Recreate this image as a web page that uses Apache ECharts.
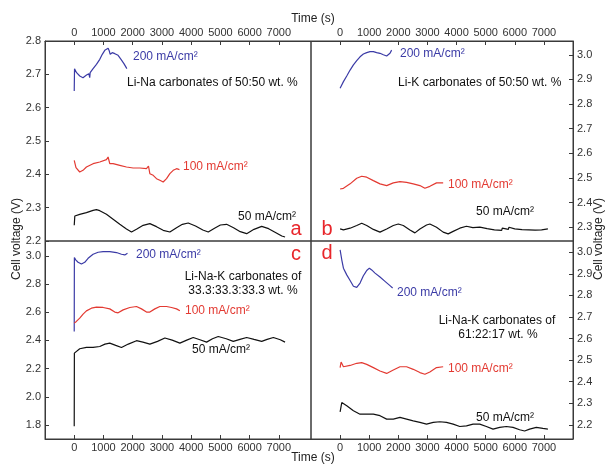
<!DOCTYPE html>
<html><head><meta charset="utf-8">
<script src="https://cdn.jsdelivr.net/npm/echarts@6/dist/echarts.min.js"></script>
<style>html,body{margin:0;padding:0;background:#fff}#c{width:606px;height:465px}</style>
</head><body><div id="c"></div>
<script>
// ---- tick labels ----
const timeTicks = [0,1000,2000,3000,4000,5000,6000,7000];
const yTicksA = [2.2,2.3,2.4,2.5,2.6,2.7,2.8];
const yTicksB = [2.3,2.4,2.5,2.6,2.7,2.8,2.9,3.0];
const yTicksC = [1.8,2.0,2.2,2.4,2.6,2.8,3.0];
const yTicksD = [2.2,2.3,2.4,2.5,2.6,2.7,2.8,2.9,3.0];

// ---- panel a : Li-Na 50:50 ----
const aT200 = [0,10,80,190,300,420,500,530,545,645,760,874,960,1045,1100,1160,1200,1230,1300,1390,1500,1600,1700,1800];
const aV200 = [2.650,2.717,2.705,2.695,2.690,2.698,2.702,2.690,2.705,2.717,2.730,2.745,2.760,2.772,2.778,2.778,2.770,2.760,2.765,2.762,2.757,2.745,2.732,2.717];
const aT100 = [0,60,188,300,417,645,874,1102,1159,1216,1330,1559,1787,2016,2244,2472,2540,2587,2701,2815,2929,3043,3158,3272,3386,3500,3600];
const aV100 = [2.442,2.420,2.407,2.412,2.422,2.432,2.437,2.444,2.452,2.432,2.432,2.427,2.422,2.419,2.419,2.417,2.425,2.402,2.397,2.387,2.382,2.377,2.387,2.402,2.412,2.417,2.414];
const aT50 = [0,20,188,417,645,759,874,1102,1330,1559,1787,1959,2130,2358,2587,2815,3043,3272,3500,3700,3900,4150,4400,4585,4800,5000,5213,5450,5680,5899,6150,6413,6650,6900,7100,7212];
const aV50 = [2.247,2.275,2.280,2.285,2.292,2.294,2.291,2.280,2.265,2.250,2.236,2.227,2.235,2.247,2.252,2.243,2.232,2.227,2.240,2.250,2.254,2.245,2.233,2.227,2.238,2.248,2.250,2.240,2.228,2.222,2.235,2.244,2.237,2.225,2.215,2.212];

// ---- panel b : Li-K 50:50 ----
const bT200 = [0,114,228,343,457,571,685,799,914,1028,1142,1256,1370,1485,1599,1656,1713,1770];
const bV200 = [2.864,2.891,2.914,2.938,2.959,2.976,2.992,3.003,3.009,3.013,3.013,3.009,3.006,3.000,2.995,2.990,3.006,3.019];
const bT100 = [0,114,343,571,742,914,1142,1370,1599,1827,2056,2284,2512,2741,2912,3083,3312,3540];
const bV100 = [2.455,2.458,2.476,2.499,2.507,2.503,2.489,2.476,2.469,2.480,2.485,2.482,2.476,2.469,2.458,2.466,2.480,2.480];
const bT50 = [0,114,343,571,742,914,1142,1370,1599,1827,1999,2170,2398,2570,2741,2969,3083,3312,3540,3712,3883,4111,4340,4560,4580,4800,4820,5050,5070,5300,5320,5550,5570,5780,5800,6000,6020,6250,6270,6480,6500,6700,6720,6920,6940,7138];
const bV50 = [2.293,2.289,2.296,2.307,2.316,2.307,2.291,2.280,2.293,2.307,2.313,2.307,2.289,2.277,2.293,2.309,2.313,2.300,2.280,2.273,2.283,2.296,2.304,2.298,2.306,2.300,2.307,2.294,2.302,2.289,2.297,2.287,2.296,2.291,2.300,2.293,2.300,2.290,2.297,2.289,2.296,2.288,2.295,2.289,2.296,2.293];

// ---- panel c : Li-Na-K 33.3:33.3:33.3 ----
const cT200 = [0,5,51,131,246,360,474,645,817,988,1216,1445,1616,1730,1822];
const cV200 = [2.464,2.988,2.972,2.955,2.943,2.955,2.983,3.012,3.026,3.031,3.031,3.024,3.012,3.007,3.019];
const cT100 = [0,74,188,303,417,588,759,988,1216,1388,1502,1673,1901,2130,2301,2472,2587,2758,2929,3158,3329,3500,3614];
const cV100 = [2.523,2.535,2.558,2.587,2.610,2.629,2.636,2.634,2.624,2.601,2.596,2.617,2.634,2.641,2.624,2.601,2.601,2.624,2.641,2.641,2.634,2.624,2.610];
const cT50 = [0,5,51,188,417,645,874,1050,1216,1420,1616,1850,2130,2350,2587,2850,3101,3350,3614,3850,4071,4300,4528,4730,4928,5200,5442,5670,5899,6150,6413,6600,6812,7050,7212];
const cV50 = [1.790,2.310,2.322,2.341,2.350,2.350,2.357,2.374,2.381,2.365,2.350,2.374,2.398,2.388,2.374,2.393,2.417,2.402,2.381,2.402,2.421,2.405,2.388,2.412,2.428,2.412,2.393,2.407,2.421,2.407,2.393,2.407,2.421,2.405,2.388];

// ---- panel d : Li-Na-K 61:22:17 ----
const dT200 = [0,57,114,228,343,457,514,571,685,799,857,914,1005,1085,1199,1370,1542,1713,1804];
const dV200 = [3.011,2.965,2.926,2.895,2.869,2.842,2.834,2.837,2.857,2.891,2.903,2.915,2.926,2.918,2.903,2.885,2.865,2.845,2.834];
const dT100 = [0,34,114,343,571,742,914,1142,1370,1599,1827,2056,2284,2512,2741,2912,3083,3312,3540];
const dV100 = [2.465,2.491,2.469,2.475,2.485,2.488,2.480,2.465,2.449,2.438,2.454,2.469,2.469,2.457,2.442,2.434,2.445,2.465,2.469];
const dT50 = [0,57,114,228,457,685,914,1142,1370,1599,1827,2056,2284,2512,2741,2969,3198,3426,3654,3883,4111,4340,4568,4796,5025,5253,5482,5710,5939,6167,6338,6510,6738,6966,7138];
const dV50 = [2.260,2.303,2.300,2.288,2.265,2.249,2.249,2.249,2.242,2.226,2.226,2.234,2.226,2.218,2.211,2.203,2.211,2.214,2.211,2.203,2.192,2.195,2.203,2.203,2.192,2.180,2.188,2.192,2.188,2.177,2.171,2.180,2.188,2.183,2.180];

const FONT = "'Liberation Sans', Arial, Helvetica, sans-serif";
const AX = '#3a3a3a';
const BLUE = '#3b3ba6', RED = '#e33a32', BLACK = '#111111', LETTER = '#e8262b';

function xAx(gi, pos, max) {
  return {
    type: 'value', gridIndex: gi, position: pos, min: -1000, max: max, interval: 1000,
    axisLine: { show: true, onZero: false, lineStyle: { color: AX, width: 1 } },
    axisTick: { show: true, inside: true, length: 4, customValues: timeTicks, lineStyle: { color: AX } },
    axisLabel: { show: true, customValues: timeTicks, margin: 3, fontSize: 11, color: '#333', fontFamily: FONT,
      formatter: v => String(Math.round(v)) },
    splitLine: { show: false }
  };
}
function yAx(gi, pos, min, max, ticks) {
  return {
    type: 'value', gridIndex: gi, position: pos, min: min, max: max,
    axisLine: { show: true, onZero: false, lineStyle: { color: AX, width: 1 } },
    axisTick: { show: true, inside: true, length: 4, customValues: ticks, lineStyle: { color: AX } },
    axisLabel: { show: true, customValues: ticks, margin: 4, fontSize: 11, color: '#333', fontFamily: FONT,
      formatter: v => Number(v).toFixed(1) },
    splitLine: { show: false }
  };
}
function ser(i, t, v, color) {
  return { type: 'line', xAxisIndex: i, yAxisIndex: i, data: t.map((x, k) => [x, v[k]]),
    showSymbol: false, symbol: 'none', silent: true, animation: false,
    lineStyle: { color: color, width: 1.2 } };
}
function txt(x, y, text, color, size, align, rot) {
  return { type: 'text', x: x, y: y, rotation: rot || 0, silent: true,
    style: { text: text, fill: color, fontSize: size, fontFamily: FONT,
      align: align || 'left', textAlign: align || 'left', verticalAlign: 'middle', textVerticalAlign: 'middle' } };
}

const gridStyle = { show: true, borderColor: AX, borderWidth: 1, backgroundColor: 'transparent' };
const option = {
  animation: false,
  backgroundColor: '#fff',
  grid: [
    Object.assign({ left: 45, top: 41, width: 266, height: 200 }, gridStyle),
    Object.assign({ left: 311, top: 41, width: 262, height: 200 }, gridStyle),
    Object.assign({ left: 45, top: 241, width: 266, height: 198 }, gridStyle),
    Object.assign({ left: 311, top: 241, width: 262, height: 198 }, gridStyle)
  ],
  xAxis: [xAx(0, 'top', 8100), xAx(1, 'top', 8000), xAx(2, 'bottom', 8100), xAx(3, 'bottom', 8000)],
  yAxis: [yAx(0, 'left', 2.2, 2.8, yTicksA), yAx(1, 'right', 2.244, 3.056, yTicksB),
          yAx(2, 'left', 1.70, 3.106, yTicksC), yAx(3, 'right', 2.134, 3.052, yTicksD)],
  series: [
    ser(0, aT200, aV200, BLUE), ser(0, aT100, aV100, RED), ser(0, aT50, aV50, BLACK),
    ser(1, bT200, bV200, BLUE), ser(1, bT100, bV100, RED), ser(1, bT50, bV50, BLACK),
    ser(2, cT200, cV200, BLUE), ser(2, cT100, cV100, RED), ser(2, cT50, cV50, BLACK),
    ser(3, dT200, dV200, BLUE), ser(3, dT100, dV100, RED), ser(3, dT50, dV50, BLACK)
  ],
  graphic: [
    txt(313, 19, 'Time (s)', '#222', 12, 'center'),
    txt(313, 458, 'Time (s)', '#222', 12, 'center'),
    txt(17, 239, 'Cell voltage (V)', '#222', 12, 'center', Math.PI / 2),
    txt(599, 239, 'Cell voltage (V)', '#222', 12, 'center', Math.PI / 2),
    // panel a
    txt(133, 57, '200 mA/cm²', BLUE, 12),
    txt(127, 83, 'Li-Na carbonates of 50:50 wt. %', '#111', 12),
    txt(183, 167, '100 mA/cm²', RED, 12),
    txt(238, 217, '50 mA/cm²', '#111', 12),
    txt(296, 229, 'a', LETTER, 20, 'center'),
    // panel b
    txt(400, 54, '200 mA/cm²', BLUE, 12),
    txt(398, 83, 'Li-K carbonates of 50:50 wt. %', '#111', 12),
    txt(448, 185, '100 mA/cm²', RED, 12),
    txt(476, 212, '50 mA/cm²', '#111', 12),
    txt(327, 229, 'b', LETTER, 20, 'center'),
    // panel c
    txt(136, 255, '200 mA/cm²', BLUE, 12),
    txt(243, 277, 'Li-Na-K carbonates of', '#111', 12, 'center'),
    txt(243, 291, '33.3:33.3:33.3 wt. %', '#111', 12, 'center'),
    txt(185, 311, '100 mA/cm²', RED, 12),
    txt(192, 350, '50 mA/cm²', '#111', 12),
    txt(296, 254, 'c', LETTER, 20, 'center'),
    // panel d
    txt(397, 293, '200 mA/cm²', BLUE, 12),
    txt(497, 321, 'Li-Na-K carbonates of', '#111', 12, 'center'),
    txt(498, 335, '61:22:17 wt. %', '#111', 12, 'center'),
    txt(448, 369, '100 mA/cm²', RED, 12),
    txt(476, 418, '50 mA/cm²', '#111', 12),
    txt(327, 253, 'd', LETTER, 20, 'center')
  ]
};
const chart = echarts.init(document.getElementById('c'), null, { renderer: 'canvas' });
chart.setOption(option);
</script></body></html>
